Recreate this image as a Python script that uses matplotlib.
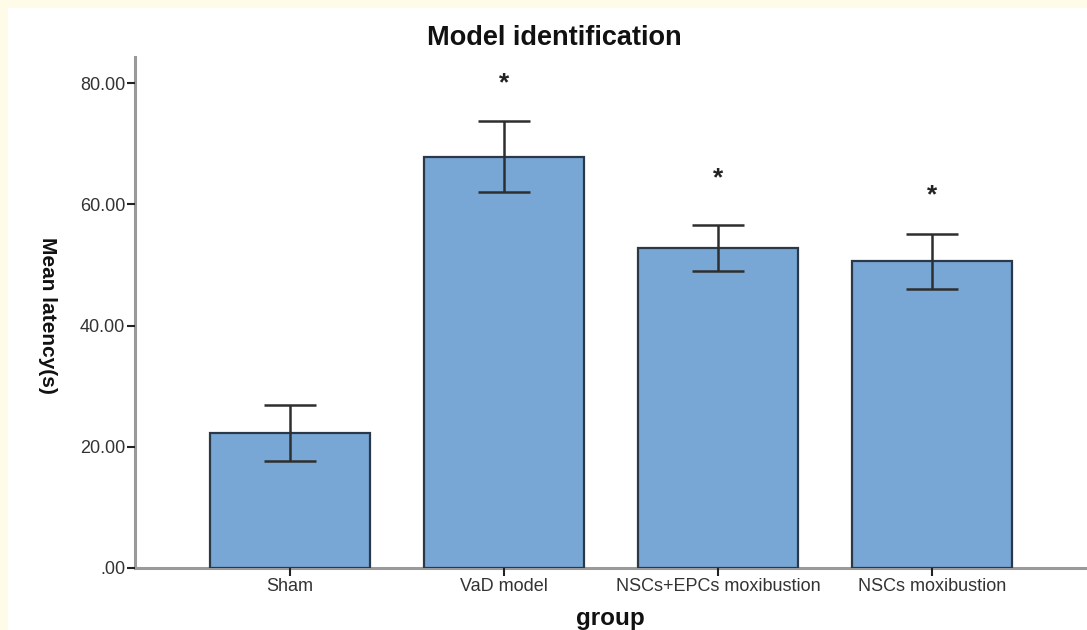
import matplotlib.pyplot as plt
from matplotlib.patches import Rectangle
import numpy as np

plt.rcParams['font.family'] = ['Liberation Sans', 'DejaVu Sans']

groups = ['Sham', 'VaD model', 'NSCs+EPCs moxibustion', 'NSCs moxibustion']
means = [22.3, 67.8, 52.8, 50.6]
err_upper = [26.9, 73.7, 56.6, 55.1]
err_lower = [17.6, 62.0, 49.0, 46.0]
star_y = [None, 80.0, 64.3, 61.5]
yticks = [0, 20, 40, 60, 80]
ytick_labels = ['.00', '20.00', '40.00', '60.00', '80.00']

fig = plt.figure(figsize=(10.87, 6.30), dpi=100, facecolor='#fefbe8')
# white panel inside the cream frame
fig.patches.append(Rectangle((8 / 1087, 0), 1, (630 - 8) / 630, transform=fig.transFigure,
                             facecolor='white', edgecolor='none', zorder=-5))

ax = fig.add_axes([135 / 1087, 62 / 630, (1086 - 135) / 1087, (568 - 57) / 630])
ax.set_facecolor('none')

x = np.arange(len(groups))
means = np.array(means)
lo = means - np.array(err_lower)
hi = np.array(err_upper) - means

ax.bar(x, means, width=0.75, color='#78a7d5', edgecolor='#2a3848', linewidth=1.6, zorder=2)
ax.errorbar(x, means, yerr=[lo, hi], fmt='none', ecolor='#2e2e2e', elinewidth=1.8,
            capsize=19, capthick=1.8, zorder=3)

for xi, sy in zip(x, star_y):
    if sy is not None:
        ax.text(xi, sy, '*', ha='center', va='center', fontsize=19, fontweight='bold', color='#222222')

ax.set_xlim(-0.724, 3.72)
ax.set_ylim(0, 84.3)

ax.set_yticks(yticks)
ax.set_yticklabels(ytick_labels)
ax.set_xticks(x)
ax.set_xticklabels(groups)
ax.tick_params(axis='both', direction='out', length=6, width=1.5, color='#222222',
               labelsize=13, labelcolor='#333333', pad=1)

for s in ['top', 'right']:
    ax.spines[s].set_visible(False)
for s in ['left', 'bottom']:
    ax.spines[s].set_color('#9a9a9a')
    ax.spines[s].set_linewidth(2.2)
    ax.spines[s].set_zorder(1)

fig.text(554 / 1087, (630 - 38) / 630, 'Model identification', ha='center', va='center',
         fontsize=19.5, fontweight='bold', color='#111111')
fig.text(47 / 1087, (630 - 315) / 630, 'Mean latency(s)', ha='center', va='center',
         rotation=270, fontsize=15, fontweight='bold', color='#111111')
fig.text(610 / 1087, (630 - 619) / 630, 'group', ha='center', va='center',
         fontsize=17.5, fontweight='bold', color='#111111')

fig.savefig('out.png', dpi=100, facecolor=fig.get_facecolor())
